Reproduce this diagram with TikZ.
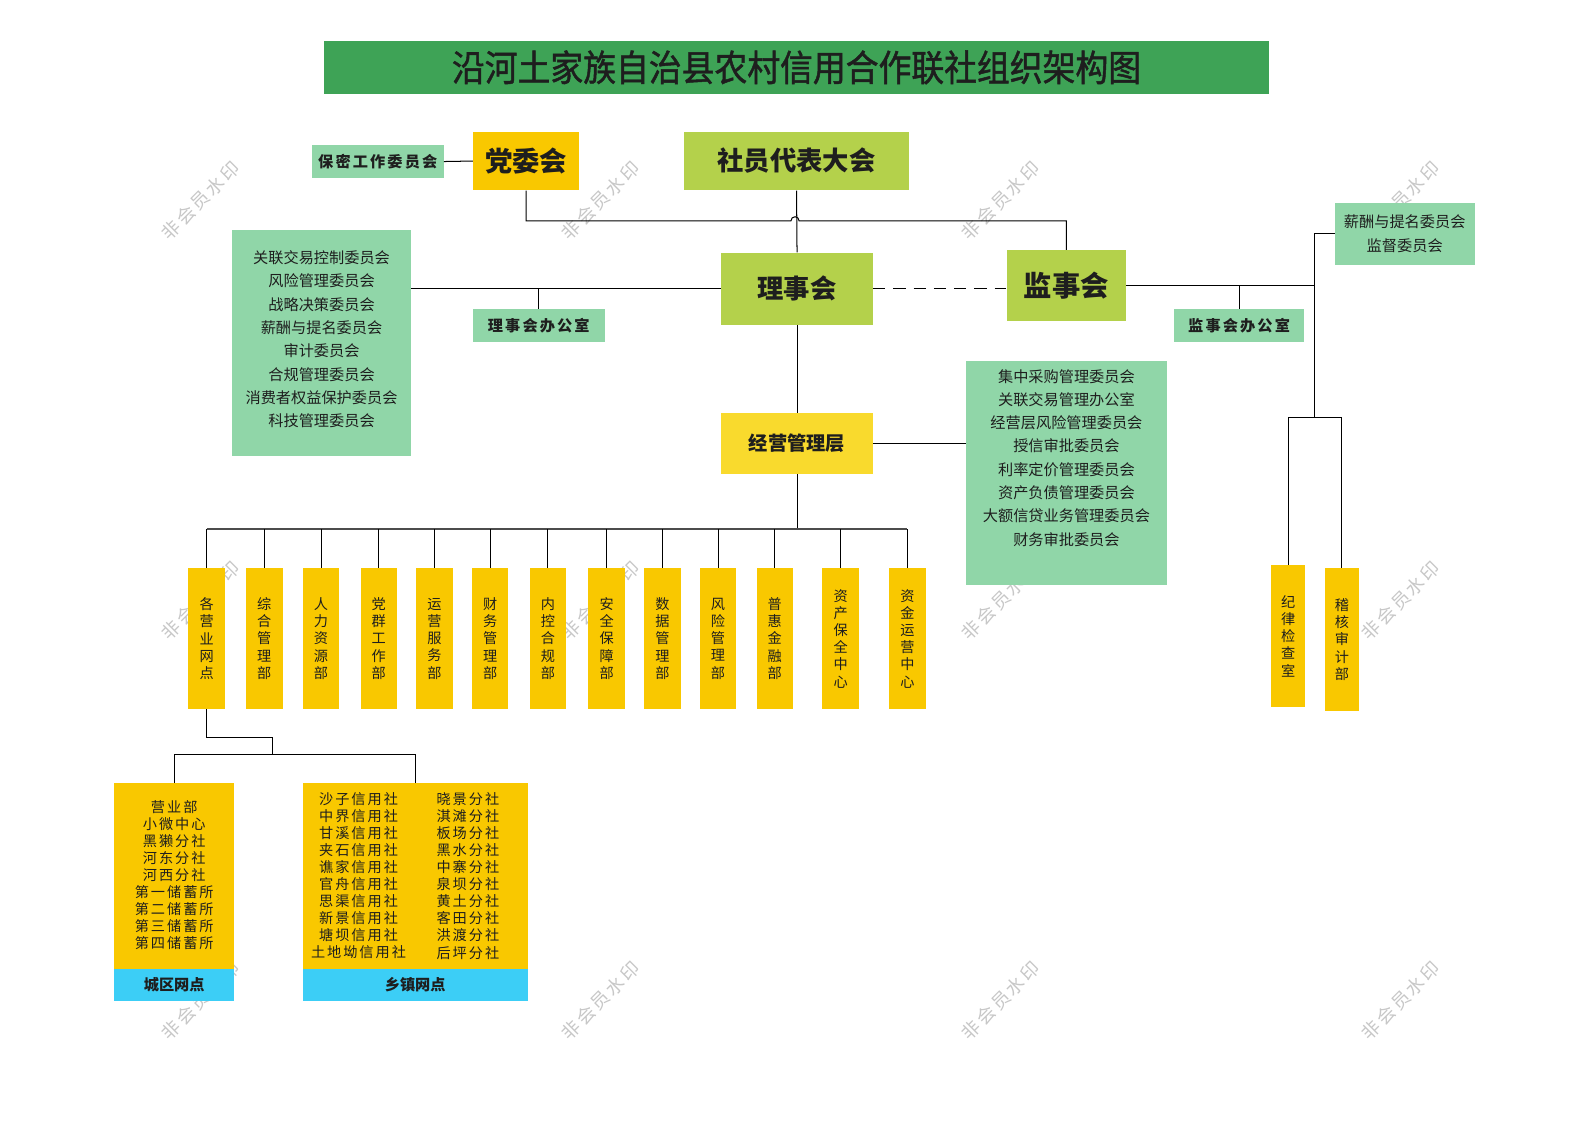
\documentclass[tikz,border=0pt]{standalone}
\usepackage{fontspec}
\setmainfont{Noto Sans CJK SC}
\newfontfamily\titlefont[FakeStretch=0.9, FakeBold=1.3]{Noto Sans CJK SC}
\newfontfamily\spacedfont[LetterSpace=14]{Noto Sans CJK SC}
\usetikzlibrary{positioning,calc}

\definecolor{titlegreen}{RGB}{62,163,86}
\definecolor{mint}{RGB}{144,214,168}
\definecolor{leaf}{RGB}{180,209,75}
\definecolor{amber}{RGB}{249,200,0}
\definecolor{lemon}{RGB}{249,218,45}
\definecolor{sky}{RGB}{60,206,246}
\definecolor{ink}{RGB}{30,30,30}

\tikzset{
  box/.style={inner sep=0pt, align=center, text=ink},
  mintbox/.style={box, fill=mint},
  leafbox/.style={box, fill=leaf, font=\bfseries\fontsize{26}{30}\selectfont},
  officebox/.style={mintbox, minimum width=130pt, minimum height=33pt,
                    font=\spacedfont\bfseries\fontsize{15}{18}\selectfont},
  deptbox/.style={box, fill=amber, minimum width=36pt, minimum height=139pt,
                  font=\fontsize{14}{17}\selectfont},
  listtext/.style={box, font=\fontsize{15}{23}\selectfont},
  nettext/.style={box, font=\spacedfont\fontsize{14}{16.8}\selectfont},
  bandbox/.style={box, fill=sky, minimum height=31pt,
                  font=\bfseries\fontsize{15}{18}\selectfont},
  link/.style={line width=1pt, black},
  wmark/.style={text=black!22, rotate=45, font=\spacedfont\fontsize{18}{20}\selectfont}
}

\begin{document}
\begin{tikzpicture}[x=1pt, y=-1pt]
  \useasboundingbox[fill=white] (0,0) rectangle (1567,1109);

  % watermarks
  \foreach \mx in {198,593,988,1383}
    \foreach \my in {198,593,988}
      \node[wmark] at (\mx,\my) {非会员水印};

  % title
  \node[box, fill=titlegreen, minimum width=933pt, minimum height=53pt,
        font=\titlefont\fontsize{36}{40}\selectfont] (title) at (786.5,66.5)
        {沿河土家族自治县农村信用合作联社组织架构图};

  % top level
  \node[mintbox, minimum width=130pt, minimum height=33pt,
        font=\spacedfont\bfseries\fontsize{15}{18}\selectfont] (bm) at (373,159.5) {保密工作委员会};
  \node[box, fill=amber, minimum width=105pt, minimum height=58pt,
        font=\bfseries\fontsize{27}{30}\selectfont] (dw) at (519.5,159) {党委会};
  \node[leafbox, minimum width=223pt, minimum height=58pt] (shdb) at (786.5,159) {社员代表大会};

  \node[leafbox, minimum width=150pt, minimum height=71pt] (lsh) at (787,285) {理事会};
  \node[leafbox, minimum width=118pt, minimum height=70pt,
        font=\bfseries\fontsize{28}{30}\selectfont] (jsh) at (1053,282) {监事会};

  \node[officebox] (lbgs) at (532,321.5) {理事会办公室};
  \node[officebox, minimum width=129pt] (jbgs) at (1223.5,321.5) {监事会办公室};

  % committees of the board
  \node[mintbox, minimum width=177pt, minimum height=223pt] (lcw) at (317.5,338.5) {};
  \node[listtext] at (317.5,335) {关联交易控制委员会\\风险管理委员会\\战略决策委员会\\
    薪酬与提名委员会\\审计委员会\\合规管理委员会\\消费者权益保护委员会\\科技管理委员会};

  \node[mintbox, minimum width=138pt, minimum height=62pt,
        font=\fontsize{15}{24}\selectfont] (xc) at (1387,231) {薪酬与提名委员会\\监督委员会};

  % management
  \node[box, fill=lemon, minimum width=150pt, minimum height=60pt,
        font=\bfseries\fontsize{19}{22}\selectfont] (jy) at (787,438) {经营管理层};
  \node[mintbox, minimum width=198pt, minimum height=222pt] (jyw) at (1053,467) {};
  \node[listtext] at (1053,452) {集中采购管理委员会\\关联交易管理办公室\\经营层风险管理委员会\\
    授信审批委员会\\利率定价管理委员会\\资产负债管理委员会\\大额信贷业务管理委员会\\财务审批委员会};

  % departments
  \foreach \n/\x/\t in {1/204/{各\\营\\业\\网\\点}, 2/261/{综\\合\\管\\理\\部},
      3/317/{人\\力\\资\\源\\部}, 4/374/{党\\群\\工\\作\\部}, 5/429/{运\\营\\服\\务\\部},
      6/484/{财\\务\\管\\理\\部}, 7/541/{内\\控\\合\\规\\部}, 8/599/{安\\全\\保\\障\\部},
      9/654/{数\\据\\管\\理\\部}, 10/709/{风\\险\\管\\理\\部}, 11/765/{普\\惠\\金\\融\\部},
      12/830/{资\\产\\保\\全\\中\\心}, 13/896/{资\\金\\运\\营\\中\\心}}
    \node[deptbox] (d\n) at (\x,630.5) {\t};

  \node[deptbox, minimum width=34pt, minimum height=140pt] (jl) at (1272,628) {纪\\律\\检\\查\\室};
  \node[deptbox, minimum width=34pt, minimum height=141pt] (jh) at (1325,631.5) {稽\\核\\审\\计\\部};

  % outlets
  \node[box, fill=amber, minimum width=118pt, minimum height=184pt] (cq) at (172,865) {};
  \node[nettext] at (172,864) {营业部\\小微中心\\黑獭分社\\河东分社\\河西分社\\
    第一储蓄所\\第二储蓄所\\第三储蓄所\\第四储蓄所};
  \node[bandbox, minimum width=118pt] (cqb) at (172,972.5) {城区网点};

  \node[box, fill=amber, minimum width=222pt, minimum height=184pt] (xz) at (410,865) {};
  \node[nettext] at (354,865) {沙子信用社\\中界信用社\\甘溪信用社\\夹石信用社\\谯家信用社\\
    官舟信用社\\思渠信用社\\新景信用社\\塘坝信用社\\土地坳信用社};
  \node[nettext] at (462,865) {晓景分社\\淇滩分社\\板场分社\\黑水分社\\中寨分社\\
    泉坝分社\\黄土分社\\客田分社\\洪渡分社\\后坪分社};
  \node[bandbox, minimum width=222pt] (xzb) at (410,972.5) {乡镇网点};

  % connectors
  \draw[link] (bm.east) -- (dw.west);
  \draw[link] (dw.south) |- (781,218) arc[start angle=180, end angle=0, radius=4pt] -| (jsh.north);
  \draw[link] (shdb.south) -- (lsh.north);
  \draw[link, dash pattern=on 12pt off 8pt] (lsh.east) -- (lsh.east -| jsh.west);
  \draw[link] (lcw.east |- lsh.west) -- (lsh.west);
  \draw[link] (lbgs.north) -- (lbgs.north |- lsh.west);

  \coordinate (rj) at (1298,282);
  \coordinate (rb) at (1298,412);
  \draw[link] (jsh.east) -- (rj);
  \draw[link] (jbgs.north) -- (jbgs.north |- rj);
  \draw[link] (xc.west) -| (rb);
  \draw[link] (jl.north) |- (rb) -| (jh.north);

  \draw[link] (lsh.south) -- (jy.north);
  \draw[link] (jy.east) -- (jy.east -| jyw.west);

  \coordinate (bus) at (784,522);
  \draw[link] (jy.south) -- (jy.south |- bus);
  \draw[line width=1.8pt, black!70] (d1.north |- bus) -- (d13.north |- bus);
  \foreach \n in {1,...,13}
    \draw[link] (d\n.north) -- (d\n.north |- bus);

  \coordinate (lk) at (269,745);
  \draw[link] (d1.south) -- ++(0,28) -| (lk);
  \draw[link] (cq.north) |- (lk) -| (xz.north);
\end{tikzpicture}
\end{document}
